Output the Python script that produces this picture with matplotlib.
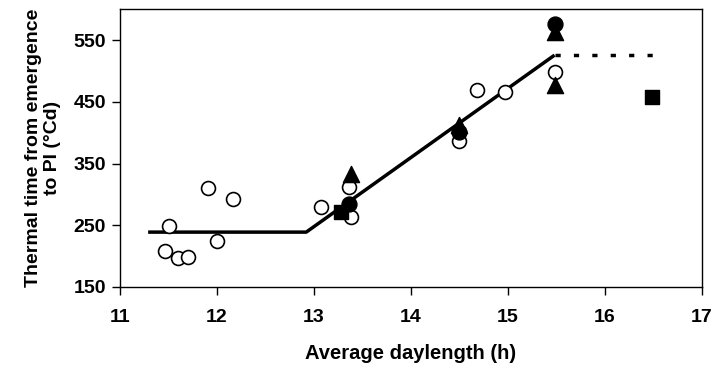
import matplotlib
matplotlib.use("Agg")
import matplotlib.pyplot as plt

plt.rcParams['font.family'] = ['Liberation Sans', 'DejaVu Sans']

# Open circles
oc_x = [11.46, 11.51, 11.60, 11.70, 11.91, 12.00, 12.16, 13.07, 13.36, 13.38, 14.49, 14.68, 14.97, 15.48]
oc_y = [208, 249, 197, 199, 310, 225, 293, 280, 312, 263, 387, 469, 466, 498]
# Filled circles
fc_x = [13.36, 14.49, 15.48]
fc_y = [284, 401, 577]
# Filled triangles
tr_x = [13.38, 14.49, 15.48, 15.48]
tr_y = [333, 412, 564, 477]
# Filled squares
sq_x = [13.28, 16.48]
sq_y = [272, 458]
# Fitted line (broken-stick)
fit_x = [11.29, 12.92, 15.48]
fit_y = [239, 239, 526]
dash_x = [15.48, 16.49]
dash_y = [526, 526]

xticks = [11, 12, 13, 14, 15, 16, 17]
yticks = [150, 250, 350, 450, 550]

fig = plt.figure(figsize=(7.13, 3.65), dpi=100)
ax = fig.add_axes([0.1683, 0.2137, 0.8163, 0.7603])

ax.plot(fit_x, fit_y, color='black', lw=2.5, solid_capstyle='butt', zorder=2)
ax.plot(dash_x, dash_y, color='black', lw=2.5, ls=(0, (1.5, 3.8)), dash_capstyle='butt', zorder=2)

ax.scatter(oc_x, oc_y, s=100, facecolors='white', edgecolors='black', linewidths=1.2, zorder=3)
ax.scatter(fc_x, fc_y, s=115, color='black', marker='o', zorder=4)
ax.scatter(tr_x, tr_y, s=135, color='black', marker='^', zorder=4)
ax.scatter(sq_x, sq_y, s=115, color='black', marker='s', zorder=4)

ax.set_xlim(11, 17)
ax.set_ylim(150, 600)
ax.set_xticks(xticks)
ax.set_yticks(yticks)
ax.set_xticklabels([str(t) for t in xticks], fontsize=14, fontweight='bold')
ax.set_yticklabels([str(t) for t in yticks], fontsize=14, fontweight='bold')
ax.tick_params(axis='x', direction='out', length=6, width=1, pad=10)
ax.tick_params(axis='y', direction='out', length=6, width=1, pad=4)
for s in ax.spines.values():
    s.set_linewidth(1)

ax.set_xlabel('Average daylength (h)', fontsize=14.5, fontweight='bold', labelpad=13)
ax.set_ylabel('Thermal time from emergence\nto PI (°Cd)', fontsize=14, fontweight='bold', labelpad=9, linespacing=1.2)

fig.savefig('out.png', dpi=100)
